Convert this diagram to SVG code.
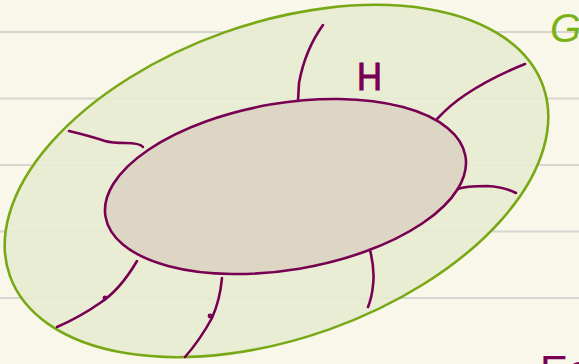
<svg xmlns="http://www.w3.org/2000/svg" width="579" height="364" viewBox="0 0 579 364">
<style>
.rule{stroke:#d6d6d0;stroke-width:2}
.ink{fill:none;stroke:#780052;stroke-width:2.6;stroke-linecap:round;stroke-linejoin:round}
.lbl{font-family:"Liberation Sans",Arial,sans-serif}
</style>
<rect width="579" height="364" fill="#f9f7ea"/>
<g id="paper">
<line class="rule" x1="0" y1="32" x2="579" y2="32"/>
<line class="rule" x1="0" y1="98.5" x2="579" y2="98.5"/>
<line class="rule" x1="0" y1="165" x2="579" y2="165"/>
<line class="rule" x1="0" y1="231.5" x2="579" y2="231.5"/>
<line class="rule" x1="0" y1="298" x2="579" y2="298"/>
</g>
<g id="G">
<ellipse cx="276.5" cy="181" rx="283" ry="157.5" transform="rotate(-19.6 276.5 181)" fill="#e7ecd1" fill-opacity="0.92" stroke="#78a815" stroke-width="2.6"/>
<text class="lbl" x="550" y="42" font-size="40" font-style="italic" fill="#7ab317">G</text>
</g>
<g id="H">
<ellipse cx="285.5" cy="186.5" rx="182.5" ry="83.3" transform="rotate(-9.5 285.5 186.5)" fill="#ded6c4" stroke="#780052" stroke-width="2.6"/>
<text class="lbl" x="357" y="90" font-size="38" fill="#780052" stroke="#780052" stroke-width="1" textLength="25" lengthAdjust="spacingAndGlyphs">H</text>
</g>
<g id="connectors">
<path class="ink" d="M298,101 L299,83 Q305,50 323,25"/>
<path class="ink" d="M437,119 Q450,105 465,95 Q490,78 525,64"/>
<path class="ink" d="M69,131 Q90,136 105,141 Q112,143 125,143 Q140,143 143,147"/>
<path class="ink" d="M458,189 Q465,186 487,186 Q505,187 516,193"/>
<path class="ink" d="M370,250 Q375,270 373,285 Q372,297 368,307"/>
<path class="ink" d="M137,261 Q120,290 100,303 Q80,317 57,327"/>
<path class="ink" d="M222,278 Q220,300 212,318 Q200,340 185,357"/>
<circle cx="105" cy="298" r="2.4" fill="#780052"/>
<circle cx="210" cy="316" r="2.4" fill="#780052"/>
</g>
<g id="Eo">
<text class="lbl" x="540" y="385" font-size="42" fill="#780052">Eo</text>
</g>
</svg>
